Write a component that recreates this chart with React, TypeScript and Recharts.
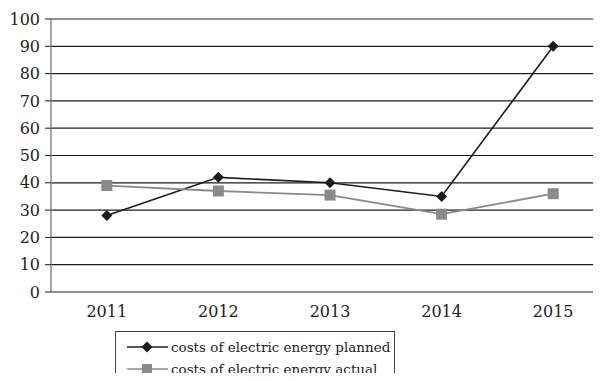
import React from "react";
import { LineChart, Line, XAxis, YAxis, CartesianGrid } from "recharts";

const years = ["2011", "2012", "2013", "2014", "2015"];
const planned = [28, 42, 40, 35, 90];
const actual = [39, 37, 35.5, 28.5, 36];
const yTicks = [0, 10, 20, 30, 40, 50, 60, 70, 80, 90, 100];
const edgeTicks = [0, 1, 2, 3, 4, 5];

const data = years.map((year, i) => ({ year, planned: planned[i], actual: actual[i] }));

const FONT = "'DejaVu Serif', serif";
const DARK = "#1c1c1c";
const GREY = "#8a8a8a";

const Diamond = (props: any) => {
  const { cx, cy } = props;
  if (cx == null || cy == null) return null;
  const r = 5.5;
  return <path d={`M${cx},${cy - r}L${cx + r},${cy}L${cx},${cy + r}L${cx - r},${cy}Z`} fill={DARK} />;
};

const Square = (props: any) => {
  const { cx, cy } = props;
  if (cx == null || cy == null) return null;
  const s = 11;
  return <rect x={cx - s / 2} y={cy - s / 2} width={s} height={s} fill={GREY} />;
};

const LegendBox = () => (
  <div
    style={{
      position: "absolute",
      left: 115,
      top: 331,
      width: 278,
      height: 60,
      border: "1px solid #444",
      background: "#fff",
      fontFamily: FONT,
      fontSize: 13.5,
      color: "#222",
    }}
  >
    {[
      { label: "costs of electric energy planned", color: DARK, shape: "d" },
      { label: "costs of electric energy actual", color: GREY, shape: "s" },
    ].map((item, i) => (
      <div key={i} style={{ display: "flex", alignItems: "center", height: 22, marginTop: i === 0 ? 4 : 0 }}>
        <svg width={54} height={14} style={{ flex: "none" }}>
          <line x1={11} y1={7} x2={52} y2={7} stroke={item.color} strokeWidth={1.6} />
          {item.shape === "d" ? (
            <path d="M31,1.5L36.5,7L31,12.5L25.5,7Z" fill={item.color} />
          ) : (
            <rect x={26} y={2} width={10} height={10} fill={item.color} />
          )}
        </svg>
        <span style={{ whiteSpace: "nowrap", marginLeft: 1 }}>{item.label}</span>
      </div>
    ))}
  </div>
);

export default function App() {
  return (
    <div style={{ position: "relative", margin: -8, width: 601, height: 381, overflow: "hidden", background: "#fff" }}>
      <LineChart width={609} height={381} data={data} margin={{ top: 19, right: 0, bottom: 0, left: 0 }}>
        <CartesianGrid vertical={false} stroke={DARK} strokeWidth={1.2} yAxisId="left" />
        <XAxis
          xAxisId="edge"
          type="number"
          domain={[0, 5]}
          ticks={edgeTicks}
          tickFormatter={() => ""}
          height={1}
          axisLine={{ stroke: DARK, strokeWidth: 1.2 }}
          tickLine={{ stroke: DARK }}
          tickSize={7}
          allowDataOverflow
        />
        <XAxis
          xAxisId="cat"
          dataKey="year"
          scale="band"
          height={88}
          axisLine={false}
          tickLine={false}
          tick={{ fontFamily: FONT, fontSize: 16, fill: "#222" }}
          tickMargin={8}
        />
        <YAxis
          yAxisId="left"
          domain={[0, 100]}
          ticks={yTicks}
          width={51}
          interval={0}
          axisLine={{ stroke: GREY, strokeWidth: 1.5 }}
          tickLine={{ stroke: DARK }}
          tickSize={6}
          tickMargin={5}
          tick={{ fontFamily: FONT, fontSize: 16, fill: "#222" }}
        />
        <Line
          xAxisId="cat"
          yAxisId="left"
          dataKey="planned"
          stroke={DARK}
          strokeWidth={1.6}
          dot={<Diamond />}
          isAnimationActive={false}
        />
        <Line
          xAxisId="cat"
          yAxisId="left"
          dataKey="actual"
          stroke={GREY}
          strokeWidth={1.8}
          dot={<Square />}
          isAnimationActive={false}
        />
      </LineChart>
      <LegendBox />
    </div>
  );
}
